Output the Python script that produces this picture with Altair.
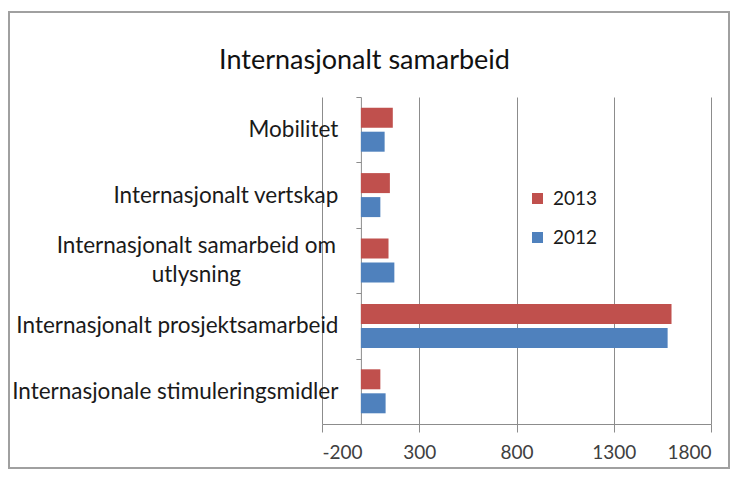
import altair as alt
import pandas as pd

categories = [
    "Mobilitet",
    "Internasjonalt vertskap",
    "Internasjonalt samarbeid om utlysning",
    "Internasjonalt prosjektsamarbeid",
    "Internasjonale stimuleringsmidler",
]
years = ["2013", "2012"]
values_2013 = [164, 149, 142, 1597, 100]
values_2012 = [122, 100, 172, 1577, 127]
x_ticks = [-200, 300, 800, 1300, 1800]
colors = ["#C0504D", "#4F81BD"]

rows = []
for c, a, b in zip(categories, values_2013, values_2012):
    rows.append({"kategori": c, "aar": "2013", "verdi": a})
    rows.append({"kategori": c, "aar": "2012", "verdi": b})
df = pd.DataFrame(rows)

font = "Lato"
MULTI = "Internasjonalt samarbeid om utlysning"
test = f"datum.value == '{MULTI}'"
gray = "#8c8c8c"

bars = alt.Chart(df).mark_bar().encode(
    x=alt.X(
        "verdi:Q",
        scale=alt.Scale(domain=[-200, 1800], nice=False, zero=False),
        axis=alt.Axis(
            values=x_ticks, title=None, grid=True, gridColor=gray,
            domainColor=gray, tickColor=gray, tickSize=8,
            labelFont=font, labelFontSize=19, labelColor="#404040",
            labelPadding=11, labelExpr="'' + datum.value",
        ),
    ),
    x2=alt.datum(0),
    y=alt.Y(
        "kategori:N", sort=categories,
        scale=alt.Scale(paddingInner=0, paddingOuter=0),
        axis=alt.Axis(
            title=None, tickBand="extent", offset=-38.9,
            domainColor=gray, tickColor=gray, tickSize=5,
            labelFont=font, labelFontSize=22.5, labelColor="#1a1a1a",
            labelLimit=500, labelLineHeight=29,
            labelExpr=f"datum.value == '{MULTI}' ? ['Internasjonalt samarbeid om', 'utlysning'] : datum.label",
            labelAlign={"condition": {"test": test, "value": "center"}, "value": "right"},
            labelPadding={"condition": {"test": test, "value": 160}, "value": 18},
            labelOffset={"condition": {"test": test, "value": -15}, "value": 0},
        ),
    ),
    yOffset=alt.YOffset(
        "aar:N", sort=years,
        scale=alt.Scale(paddingInner=1 / 6, paddingOuter=0.446),
    ),
    color=alt.Color(
        "aar:N", sort=years,
        scale=alt.Scale(domain=years, range=colors),
        legend=alt.Legend(
            title=None, orient="none", legendX=206, legendY=92,
            symbolType="square", symbolSize=121, symbolStrokeWidth=0,
            labelFont=font, labelFontSize=19, labelColor="#1a1a1a",
            rowPadding=19, padding=0, labelOffset=6,
        ),
    ),
)

frame = alt.Chart(alt.Data(values=[{}])).mark_rect(
    fillOpacity=0, stroke="#a0a0a0", strokeWidth=2
).encode(
    x=alt.value(-313), x2=alt.value(407), y=alt.value(-85), y2=alt.value(371)
)

chart = alt.layer(frame, bars).properties(
    width=389,
    height=327,
    padding={"left": 314, "top": 89, "right": 19, "bottom": 45},
    autosize=alt.AutoSizeParams(type="none"),
    title=alt.Title(
        "Internasjonalt samarbeid", font=font, fontSize=27,
        fontWeight="normal", color="#111111", anchor="middle", dx=-152,
        baseline="alphabetic", offset=-85,
    ),
).configure_view(stroke=None)

chart.save("out.html", embed_options={"renderer": "svg", "actions": False})
